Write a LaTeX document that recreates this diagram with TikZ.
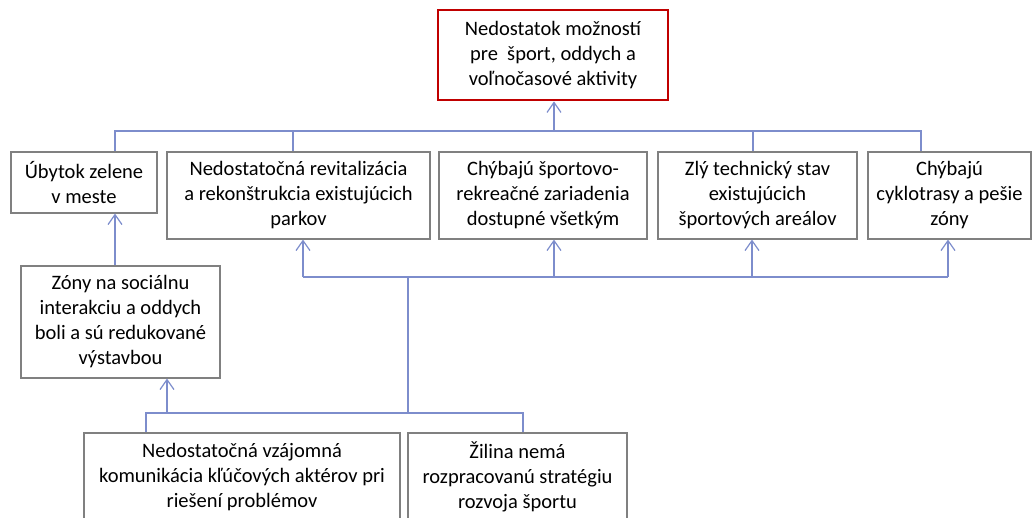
\documentclass[tikz,border=0pt]{standalone}
\usepackage{fontspec}
\setmainfont{Carlito}
\usepackage{tikz}
\usetikzlibrary{arrows.meta,positioning}
\definecolor{linkblue}{RGB}{125,141,204}
\definecolor{boxgray}{RGB}{128,128,128}
\definecolor{rootred}{RGB}{192,0,0}
\tikzset{
  box/.style={draw=boxgray, line width=1.1pt, align=center, inner sep=0pt, font=\fontsize{20.5}{25}\selectfont},
  rootbox/.style={box, draw=rootred, line width=2.8pt},
  link/.style={draw=linkblue, line width=1.2pt},
  arrow/.style={link, -{Straight Barb[length=10pt,width=14pt]}}
}

\begin{document}
\begin{tikzpicture}[x=1pt, y=-1pt]
\useasboundingbox (0,0) rectangle (1034,517);
\clip (0,0) rectangle (1034,517);
% problem at the top
\node[rootbox, minimum width=230pt, minimum height=90pt] (root) at (553,55) {Nedostatok možností\\pre \ šport, oddych a\\voľnočasové aktivity};
% direct causes
\node[box, minimum width=146pt, minimum height=61pt] (ubytok) at (84,182.5) {Úbytok zelene\\v meste};
\node[box, minimum width=263pt, minimum height=87pt] (revit) at (298.5,195.5) {Nedostatočná revitalizácia\\a rekonštrukcia existujúcich\\parkov};
\node[box, minimum width=208pt, minimum height=87pt] (chybaju) at (543,195.5) {Chýbajú športovo-\\rekreačné zariadenia\\dostupné všetkým};
\node[box, minimum width=199pt, minimum height=87pt] (zly) at (757.5,195.5) {Zlý technický stav\\existujúcich\\športových areálov};
\node[box, minimum width=163pt, minimum height=87pt] (cyklo) at (949.5,195.5) {Chýbajú\\cyklotrasy a pešie\\zóny};
% deeper causes
\node[box, minimum width=199pt, minimum height=112pt] (zony) at (120.5,322) {Zóny na sociálnu\\interakciu a oddych\\boli a sú redukované\\výstavbou};
\node[box, minimum width=316pt, minimum height=88pt] (komun) at (242,477) {Nedostatočná vzájomná\\komunikácia kľúčových aktérov pri\\riešení problémov};
\node[box, minimum width=219pt, minimum height=88pt] (zilina) at (517.5,477) {Žilina nemá\\rozpracovanú stratégiu\\rozvoja športu};
% upper bus
\coordinate (ub1) at (115,131);
\coordinate (ub2) at (293,131);
\coordinate (ubroot) at (554,131);
\coordinate (ub4) at (753,131);
\coordinate (ub5) at (921,131);
\draw[link] (ubytok.north -| ub1) -- (ub1) -- (ub5) -- (cyklo.north -| ub5);
\draw[link] (ub2) -- (revit.north -| ub2);
\draw[link] (ub4) -- (zly.north -| ub4);
\draw[arrow] (ubroot) -- (root.south -| ubroot);
% middle bus
\coordinate (mb1) at (303,277);
\coordinate (mb2) at (554,277);
\coordinate (mb3) at (752,277);
\coordinate (mb4) at (948,277);
\coordinate (mbstem) at (408,277);
\draw[link] (mb1) -- (mb4);
\foreach \n/\t in {mb1/revit, mb2/chybaju, mb3/zly, mb4/cyklo}
  \draw[arrow] (\n) -- (\t.south -| \n);
% lower bus
\coordinate (lb1) at (146,413);
\coordinate (lbarrow) at (167,413);
\coordinate (lbstem) at (408,413);
\coordinate (lb2) at (523,413);
\draw[link] (komun.north -| lb1) -- (lb1) -- (lb2) -- (zilina.north -| lb2);
\draw[link] (lbstem) -- (mbstem);
\draw[arrow] (lbarrow) -- (zony.south -| lbarrow);
\draw[arrow] (zony.north -| ub1) -- (ubytok.south -| ub1);
\end{tikzpicture}
\end{document}
